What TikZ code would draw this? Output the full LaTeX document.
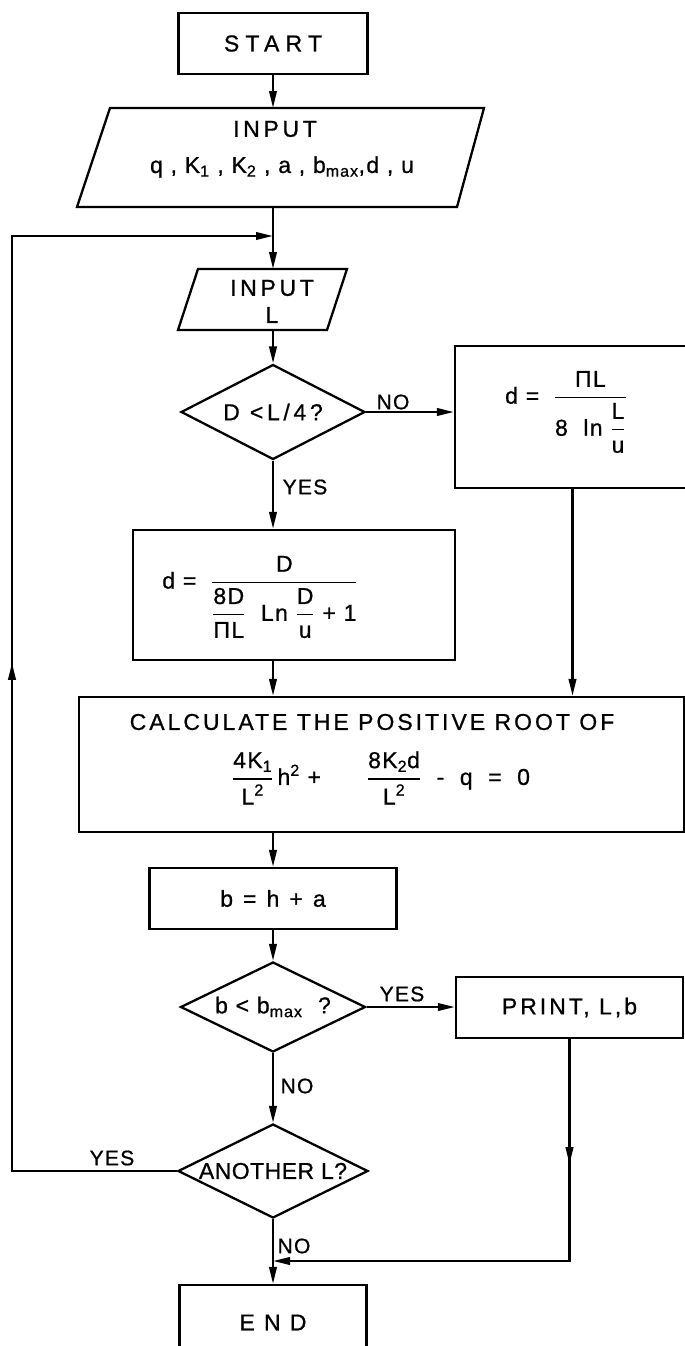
\documentclass[tikz,border=0pt]{standalone}
\usepackage{fontspec}
\usepackage{amsmath}
\setmainfont{Liberation Sans}[LetterSpace=6,FakeBold=0.8]
\newfontfamily\fontStart{Liberation Sans}[LetterSpace=27,FakeBold=0.8]
\newfontfamily\fontIn{Liberation Sans}[LetterSpace=16,FakeBold=0.8]
\newfontfamily\fontEnd{Liberation Sans}[LetterSpace=40,FakeBold=0.8]
\newfontfamily\fontWide{Liberation Sans}[LetterSpace=13,FakeBold=0.8]
\newfontfamily\fontTight{Liberation Sans}[LetterSpace=2,FakeBold=0.8]
\usetikzlibrary{arrows.meta,shapes.geometric,decorations.markings,calc}
\newcommand{\fr}[2]{\genfrac{}{}{1.6pt}{0}{\text{#1}}{\text{#2}}}
\tikzset{
  every node/.style={font=\fontsize{23}{27}\selectfont},
  box/.style={draw, line width=2.3pt, rectangle, inner sep=0pt},
  dec/.style={draw, line width=2.3pt, diamond, aspect=2, inner sep=0pt},
  flow/.style={line width=2.3pt, -{Triangle[length=17pt,width=7.5pt]}},
  plain/.style={line width=2.3pt, line join=miter},
  lbl/.style={inner sep=0pt, font=\fontsize{21}{25}\selectfont},
  midarrow/.style={postaction={decorate}, decoration={markings,
      mark=at position #1 with {\arrow{Triangle[length=17pt,width=7.5pt]}}}}
}
\begin{document}
\begin{tikzpicture}[x=1pt,y=-1pt]
\useasboundingbox (0,0) rectangle (685,1346);
\clip (0,0) rectangle (685,1346);
\fill[white] (0,0) rectangle (685,1346);

% START
\node[box, minimum width=189pt, minimum height=61pt] (start) at (273,43.5) {\fontStart START};

% INPUT parallelogram 1
\coordinate (p1tl) at (110,108);
\coordinate (p1tr) at (484,108);
\coordinate (p1br) at (457,207);
\coordinate (p1bl) at (77,207);
\draw[plain] (p1tl) -- (p1tr) -- (p1br) -- (p1bl) -- cycle;
\node (in1a) at (275,129) {\fontIn INPUT};
\node (in1b) at (282,167) {q , K\textsubscript{1} , K\textsubscript{2} , a , b\textsubscript{max},d , u};
\coordinate (in1top) at (273,108);
\coordinate (in1bot) at (273,207);

% INPUT parallelogram 2
\coordinate (p2tl) at (198,269);
\coordinate (p2tr) at (347,269);
\coordinate (p2br) at (327,330);
\coordinate (p2bl) at (178,330);
\draw[plain] (p2tl) -- (p2tr) -- (p2br) -- (p2bl) -- cycle;
\node (in2a) at (272,288) {\fontIn INPUT};
\node (in2b) at (272,315) {L};
\coordinate (in2top) at (273,269);
\coordinate (in2bot) at (273,330);

% decision 1
\node[dec, minimum width=184pt, minimum height=95pt] (d1) at (273,412) {\fontIn D <L/4?};

% right box
\node[box, minimum width=235pt, minimum height=142pt] (rbox) at (572.5,417) {};
\node (rform) at (566,412) {$\text{d = }\;\fr{ΠL}{8\ \ ln $\fr{L}{u}$}$};

% left box
\node[box, minimum width=322pt, minimum height=130pt] (lbox) at (294,595) {};
\node (lform) at (260,597) {$\text{d = }\;\fr{D}{$\fr{8D}{ΠL}$\ \ Ln $\fr{D}{u}$ + 1}$};

% calc box
\node[box, minimum width=605pt, minimum height=135pt] (calc) at (381.5,764.5) {};
\node (calc1) at (372,722) {\fontWide CALCULATE THE POSITIVE ROOT OF};
\node (calc2) at (381,778) {$\fr{4K\textsubscript{1}}{L\textsuperscript{2}}\,\text{h\textsuperscript{2} +}\qquad\fr{8K\textsubscript{2}d}{L\textsuperscript{2}}\text{ \ - \ q \ = \ 0}$};

% b = h + a
\node[box, minimum width=247pt, minimum height=61pt] (bbox) at (273,898.5) {\fontIn b = h + a};

% decision 2
\node[dec, minimum width=185pt, minimum height=90pt] (d2) at (273,1007) {b < b\textsubscript{max} \ ?};

% print
\node[box, minimum width=227pt, minimum height=61pt] (print) at (569.5,1007.5) {\fontWide PRINT, L,b};

% decision 3
\node[dec, minimum width=190pt, minimum height=94pt] (d3) at (273,1171) {\fontTight ANOTHER L?};

% end
\node[box, minimum width=187pt, minimum height=75pt] (endb) at (273,1322.5) {\fontEnd END};

% coordinates
\coordinate (j1) at (273,236);
\coordinate (j2) at (273,1261);
\coordinate (lb) at (12,1171);
\coordinate (lt) at (12,236);

% connectors
\draw[flow] (start.south) -- (in1top);
\draw[flow] (in1bot) -- (in2top);
\draw[flow] (in2bot) -- (d1.north);
\draw[flow] (d1.east) -- (d1.east -| rbox.west);
\draw[flow] (d1.south) -- (d1.south |- lbox.north);
\draw[flow] (rbox.south) -- (rbox.south |- calc.north);
\draw[flow] (lbox.south -| start.south) -- (calc.north -| start.south);
\draw[flow] (calc.south -| bbox.north) -- (bbox.north);
\draw[flow] (bbox.south) -- (d2.north);
\draw[flow] (d2.east) -- (d2.east -| print.west);
\draw[flow] (d2.south) -- (d3.north);
\draw[flow] (d3.south) -- (endb.north);
\draw[flow, midarrow=125pt] (print.south) -- (print.south |- j2) -- (j2);
\draw[flow, midarrow=673pt] (d3.west) -- (lb) -- (lt) -- (j1);

% labels
\node[lbl] (l1) at (393,402) {NO};
\node[lbl] (l2) at (305,487) {YES};
\node[lbl] (l3) at (402,994) {YES};
\node[lbl] (l4) at (297,1086) {NO};
\node[lbl] (l5) at (112,1158) {YES};
\node[lbl] (l6) at (294,1246) {NO};
\end{tikzpicture}
\end{document}
